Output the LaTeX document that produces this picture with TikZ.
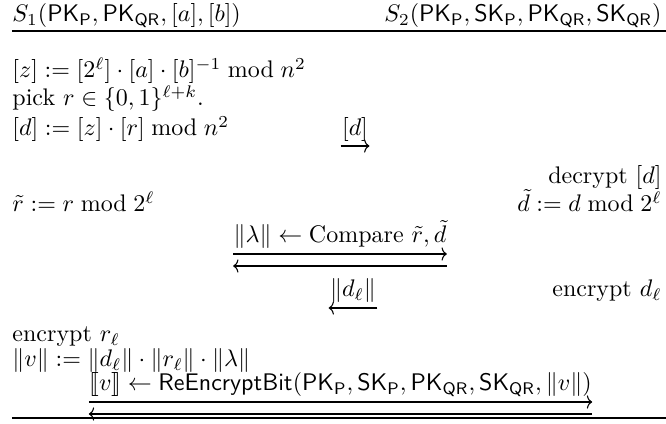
\documentclass[tikz,border=0pt]{standalone}
\usepackage{amsmath,amssymb,stmaryrd}
\usetikzlibrary{arrows.meta,calc}
\newcommand{\pk}[1]{\mathsf{PK}_{\mathsf{#1}}}
\newcommand{\sk}[1]{\mathsf{SK}_{\mathsf{#1}}}
\begin{document}
\begin{tikzpicture}[x=0.4167pt,y=-0.4167pt,
  lt/.style={anchor=base west,inner sep=0pt},
  rt/.style={anchor=base east,inner sep=0pt},
  ct/.style={anchor=base,inner sep=0pt},
  rulestyle/.style={line width=0.5pt},
  msg/.style={line width=0.45pt,-{To[length=2.2pt,width=5.5pt]}}]
\useasboundingbox (0,0) rectangle (666,424);
% header
\node[lt] (s1) at (12,22) {$S_1(\pk{P},\pk{QR},[a],[b])$};
\node[rt] (s2) at (662,22) {$S_2(\pk{P},\sk{P},\pk{QR},\sk{QR})$};
\coordinate (t1) at (12,31); \coordinate (t2) at (666,31);
\draw[rulestyle] (t1) -- (t2);
% S1 steps
\node[lt] (z) at (12,78) {$[z] := [2^\ell]\cdot[a]\cdot[b]^{-1} \bmod n^2$};
\node[lt] (pick) at (12,106) {pick $r\in\{0,1\}^{\ell+k}$.};
\node[lt] (d) at (12,136) {$[d] := [z]\cdot[r] \bmod n^2$};
\node[ct] (dl) at (355,136) {$[d]$};
\draw[msg] ($(dl.base west)+(-1,10)$) -- ($(dl.base east)+(1,10)$);
% S2
\node[rt] (dec) at (662,184) {decrypt $[d]$};
\node[lt] (rt1) at (12,212) {$\tilde r := r \bmod 2^\ell$};
\node[rt] (dt1) at (662,212) {$\tilde d := d \bmod 2^\ell$};
% compare
\node[ct] (cmp) at (340,243) {$\|\lambda\| \leftarrow \text{Compare } \tilde r,\tilde d$};
\draw[msg] ($(cmp.base west)+(0,11)$) -- ($(cmp.base east)+(0,11)$);
\draw[msg] ($(cmp.base east)+(0,23)$) -- ($(cmp.base west)+(0,23)$);
% d_ell
\node[ct] (dell) at (353,297) {$\|d_\ell\|$};
\node[rt] (encd) at (662,297) {encrypt $d_\ell$};
\draw[msg] ($(dell.base east)+(1,11)$) -- ($(dell.base west)+(-1,11)$);
% S1 final
\node[lt] (encr) at (12,342) {encrypt $r_\ell$};
\node[lt] (v) at (12,367) {$\|v\| := \|d_\ell\|\cdot\|r_\ell\|\cdot\|\lambda\|$};
\node[ct] (re) at (340.5,391) {$\llbracket v\rrbracket \leftarrow \mathsf{ReEncryptBit}(\pk{P},\sk{P},\pk{QR},\sk{QR},\|v\|)$};
\draw[msg] ($(re.base west)+(0,11)$) -- ($(re.base east)+(0,11)$);
\draw[msg] ($(re.base east)+(0,23)$) -- ($(re.base west)+(0,23)$);
\coordinate (b1) at (12,418); \coordinate (b2) at (666,418);
\draw[rulestyle] (b1) -- (b2);
\end{tikzpicture}
\end{document}
